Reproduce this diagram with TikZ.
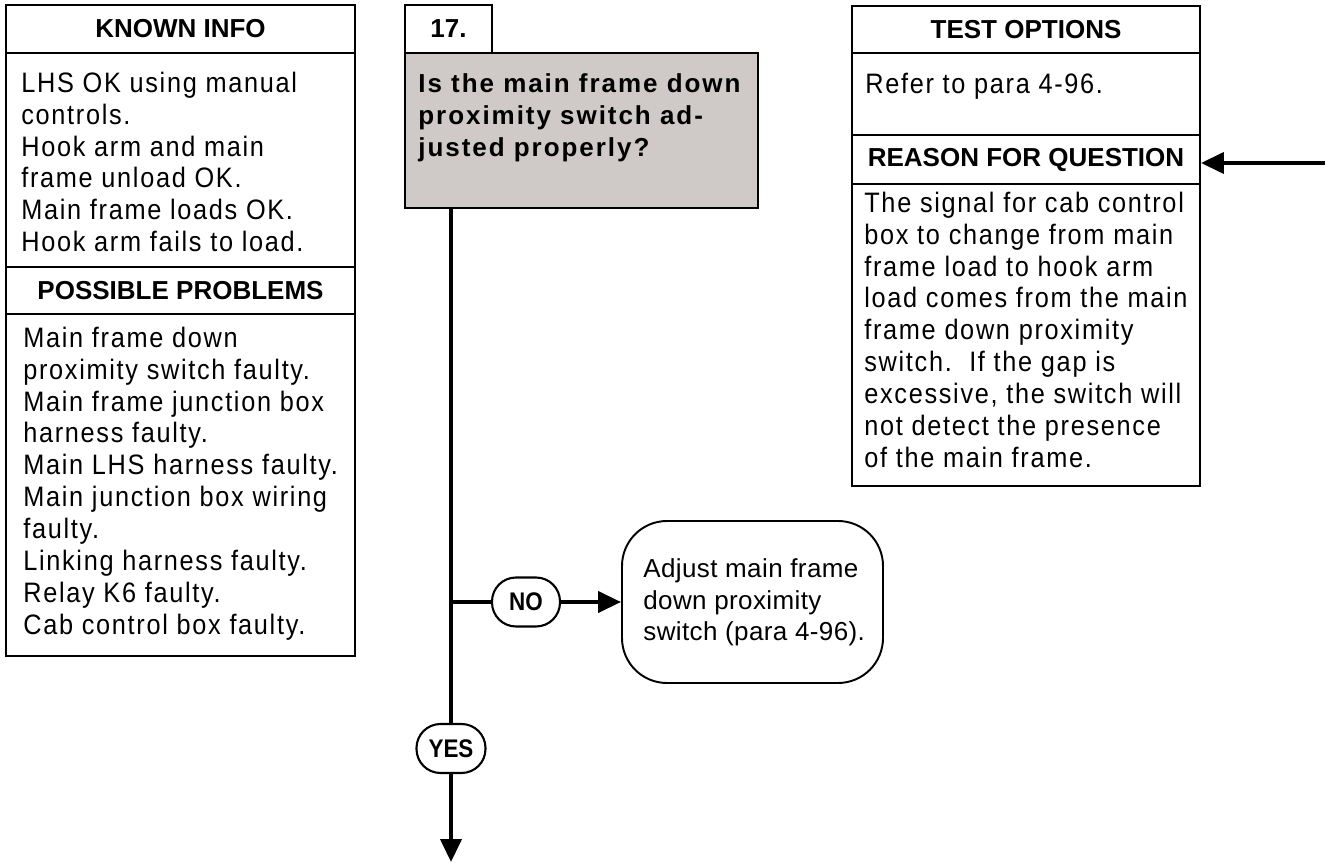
\documentclass[tikz,border=0pt]{standalone}
\usepackage{fontspec}
\setmainfont{Liberation Sans}
\newfontfamily\qbodyfont{Liberation Sans}[FakeStretch=0.9,LetterSpace=6]
\newfontfamily\qaskfont{Liberation Sans}[LetterSpace=7.5]
\newfontfamily\qadjfont{Liberation Sans}[LetterSpace=1.5]
\newfontfamily\qpillfont{Liberation Sans}[FakeStretch=0.88]
\usetikzlibrary{arrows.meta,positioning}
\definecolor{qask}{HTML}{CFC9C7}

\begin{document}
\begin{tikzpicture}[>={Triangle[length=0.46cm,width=0.42cm]},line join=miter,
  head/.style={draw,line width=1.1pt,minimum width=6.96cm,inner sep=0pt,
    font=\bfseries\fontsize{14.8}{18}\selectfont},
  body/.style={anchor=north west,inner sep=0pt,align=left,
    font=\qbodyfont\fontsize{16}{18.15}\selectfont},
  panel/.style={draw,line width=1.1pt},
  pill/.style={draw,line width=1.2pt,rounded corners=0.48cm,minimum height=0.98cm,
    inner sep=2pt,font=\qpillfont\bfseries\fontsize{14.5}{16}\selectfont},
  flow/.style={line width=2.3pt}]
\path[use as bounding box] (0,0) rectangle (26.54,17.26);
\fill[white] (0,0) rectangle (26.54,17.26);

% linke Tafel: bekannte Angaben und moegliche Fehler
\draw[panel] (0.12,4.14) rectangle (7.10,17.16);
\node[head,minimum width=6.98cm,minimum height=0.96cm] (known) at (3.61,16.68) {KNOWN INFO};
\node[head,minimum width=6.98cm,minimum height=0.94cm] (probs) at (3.61,11.45) {POSSIBLE PROBLEMS};
\node[body] (knowntxt) at (0.42,15.83) {LHS OK using manual\\controls.\\Hook arm and main\\frame unload OK.\\Main frame loads OK.\\Hook arm fails to load.};
\node[body] (probstxt) at (0.46,10.73) {Main frame down\\proximity switch faulty.\\Main frame junction box\\harness faulty.\\Main LHS harness faulty.\\Main junction box wiring\\faulty.\\Linking harness faulty.\\Relay K6 faulty.\\Cab control box faulty.};

% rechte Tafel: Pruefmoeglichkeiten und Grund der Frage
\draw[panel] (17.04,7.54) rectangle (24.00,17.14);
\node[head,minimum height=0.94cm] (tests) at (20.52,16.67) {TEST OPTIONS};
\node[head,minimum height=0.98cm] (rfq) at (20.52,14.07) {REASON FOR QUESTION};
\node[body] (teststxt) at (17.30,15.81) {Refer to para 4-96.};
\node[body] (rfqtxt) at (17.28,13.43) {The signal for cab control\\box to change from main\\frame load to hook arm\\load comes from the main\\frame down proximity\\switch.~~If the gap is\\excessive, the switch will\\not detect the presence\\of the main frame.};
\coordinate (rfqin) at (26.50,14.00);
\draw[flow,->] (rfqin) -- (rfq.east |- rfqin);

% Frage 17 mit Verzweigung
\node[head,minimum width=1.74cm,minimum height=0.96cm] (num17) at (8.97,16.68) {17.};
\node[draw,line width=1.1pt,fill=qask,minimum width=7.06cm,minimum height=3.10cm] (ask) at (11.63,14.65) {};
\node[body,font=\qaskfont\bfseries\fontsize{14.8}{18.15}\selectfont] (asktxt) at (8.36,15.79) {Is the main frame down\\proximity switch ad-\\justed properly?};
\coordinate (askout) at (9.02,13.10);
\coordinate (split) at (9.02,5.22);
\node[pill,minimum width=1.36cm] (no) at (10.52,5.22) {NO};
\node[draw,line width=1.1pt,rounded corners=0.9cm,minimum width=5.22cm,minimum height=3.24cm] (adjust) at (15.05,5.22) {};
\node[body,font=\qadjfont\fontsize{14.8}{18.15}\selectfont] (adjusttxt) at (12.86,6.10) {Adjust main frame\\down proximity\\switch (para 4-96).};
\node[pill,minimum width=1.38cm] (yes) at (9.02,2.29) {YES};
\coordinate (next) at (9.02,0.02);
\draw[flow] (askout) -- (yes);
\draw[flow,->] (yes) -- (next);
\draw[flow] (split) -- (no);
\draw[flow,->] (no) -- (adjust);
\end{tikzpicture}
\end{document}
